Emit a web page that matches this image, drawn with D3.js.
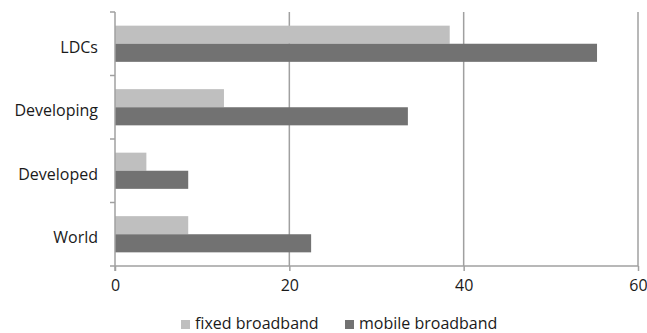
<!DOCTYPE html>
<html>
<head>
<meta charset="utf-8">
<script src="https://cdn.jsdelivr.net/npm/d3@7"></script>
<style>
  html, body { margin: 0; padding: 0; background: #fff; }
  svg text { font-family: "Open Sans", sans-serif; fill: #1a1a1a; }
</style>
</head>
<body>
<svg id="chart" width="647" height="333"></svg>
<script>
// Broadband subscriptions by region
const categories = ["LDCs", "Developing", "Developed", "World"];
const seriesNames = ["fixed broadband", "mobile broadband"];
const fixedValues = [38.4, 12.5, 3.6, 8.4];
const mobileValues = [55.3, 33.6, 8.4, 22.5];
const xTicks = [0, 20, 40, 60];
const colors = ["#bfbfbf", "#727272"];

const svg = d3.select("#chart");
const margin = { top: 12, left: 115, right: 9, bottom: 67 };
const width = 647 - margin.left - margin.right;
const height = 333 - margin.top - margin.bottom;

const g = svg.append("g").attr("transform", `translate(${margin.left},${margin.top})`);

const x = d3.scaleLinear().domain([0, 60]).range([0, width]);
const y = d3.scaleBand().domain(categories).range([0, height]).paddingInner(0.43).paddingOuter(0.215);
const ySub = d3.scaleBand().domain(seriesNames).range([0, y.bandwidth()]);

const axisColor = "#a0a0a0";

// vertical gridlines
g.selectAll(".grid").data(xTicks.filter(d => d > 0)).join("line")
  .attr("x1", d => x(d)).attr("x2", d => x(d))
  .attr("y1", 0).attr("y2", height)
  .attr("stroke", axisColor).attr("stroke-width", 1.5);

// bars
const rows = categories.map((c, i) => ({ cat: c, vals: [fixedValues[i], mobileValues[i]] }));
const grp = g.selectAll(".row").data(rows).join("g")
  .attr("transform", d => `translate(0,${y(d.cat)})`);
grp.selectAll("rect").data(d => d.vals.map((v, k) => ({ v, s: seriesNames[k], k }))).join("rect")
  .attr("x", x(0))
  .attr("y", d => ySub(d.s))
  .attr("width", d => x(d.v) - x(0))
  .attr("height", ySub.bandwidth())
  .attr("fill", d => colors[d.k]);

// x axis
const xAxis = g.append("g").attr("transform", `translate(0,${height})`)
  .call(d3.axisBottom(x).tickValues(xTicks).tickSize(5).tickPadding(9).tickSizeOuter(0));
xAxis.select(".domain").remove();
xAxis.selectAll(".tick line").attr("stroke", axisColor).attr("stroke-width", 1.5);
xAxis.selectAll(".tick text").style("font-size", "16px").attr("fill", "#1a1a1a");
xAxis.append("line").attr("x1", -5).attr("x2", width).attr("y1", 0).attr("y2", 0)
  .attr("stroke", axisColor).attr("stroke-width", 1.5);

// y axis with category boundary ticks
const bounds = d3.range(categories.length + 1).map(i => i * height / categories.length);
const yAxis = g.append("g");
yAxis.append("line").attr("x1", 0).attr("x2", 0).attr("y1", 0).attr("y2", height + 5)
  .attr("stroke", axisColor).attr("stroke-width", 1.5);
yAxis.selectAll(".btick").data(bounds.slice(0, -1)).join("line")
  .attr("x1", -5).attr("x2", 0).attr("y1", d => d).attr("y2", d => d)
  .attr("stroke", axisColor).attr("stroke-width", 1.5);
yAxis.selectAll(".lbl").data(categories).join("text")
  .attr("x", -17)
  .attr("y", d => y(d) + y.bandwidth() / 2 + 9)
  .attr("text-anchor", "end")
  .style("font-size", "16px")
  .text(d => d);

// legend
const legend = svg.append("g");
const legendItems = [{ name: seriesNames[0], x: 181 }, { name: seriesNames[1], x: 345 }];
legendItems.forEach((it, k) => {
  legend.append("rect").attr("x", it.x).attr("y", 320).attr("width", 9).attr("height", 9)
    .attr("fill", colors[k]);
  legend.append("text").attr("x", it.x + 14).attr("y", 329)
    .style("font-size", "16px").text(it.name);
});
</script>
</body>
</html>
